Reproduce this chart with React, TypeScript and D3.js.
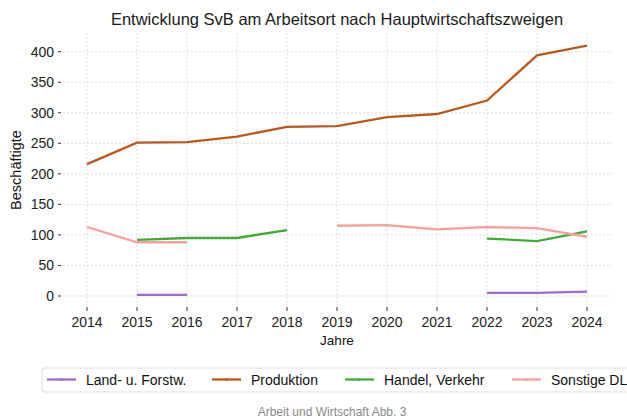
import React from 'react';
import * as d3 from 'd3';

const years = [2014, 2015, 2016, 2017, 2018, 2019, 2020, 2021, 2022, 2023, 2024];
const landForst = [null, 2, 2, null, null, null, null, null, 5, 5, 7];
const produktion = [216, 251, 252, 261, 277, 278, 293, 298, 320, 394, 410];
const handel = [null, 92, 95, 95, 108, null, null, null, 94, 90, 106];
const sonstige = [113, 88, 88, null, null, 115, 116, 109, 113, 111, 97];
const yTicks = [0, 50, 100, 150, 200, 250, 300, 350, 400];

const seriesNames = ['Land- u. Forstw.', 'Produktion', 'Handel, Verkehr', 'Sonstige DL'];
const seriesColors = ['#9b6cc8', '#b9581f', '#41ab3a', '#f7a0a0'];
const seriesData = [landForst, produktion, handel, sonstige];

const font = 'Liberation Sans, Arial, Helvetica, sans-serif';

const App = () => {
  const width = 627;
  const height = 419;
  const left = 63;
  const right = 612;
  const top = 33;
  const bottom = 305;

  const x = d3.scaleLinear().domain([2014, 2024]).range([87, 587]);
  const y = d3.scaleLinear().domain([0, 400]).range([296, 51.7]);

  const line = d3
    .line<number | null>()
    .defined((d) => d !== null)
    .x((d, i) => x(years[i]))
    .y((d) => y(d as number));

  const legendX = [47, 212, 345, 512];

  return (
    <svg width={width} height={height} style={{ position: 'absolute', left: 0, top: 0 }} fontFamily={font}>
      <rect width={width} height={height} fill="#fff" />
      <text x={337} y={25} textAnchor="middle" fontSize={16.5} fill="#1a1a1a">
        Entwicklung SvB am Arbeitsort nach Hauptwirtschaftszweigen
      </text>

      {/* grid */}
      {yTicks.map((t) => (
        <line key={'gy' + t} x1={left} x2={right} y1={y(t)} y2={y(t)} stroke="#ddd" strokeDasharray="2,2" />
      ))}
      {years.map((yr) => (
        <line key={'gx' + yr} x1={x(yr)} x2={x(yr)} y1={top} y2={bottom} stroke="#ddd" strokeDasharray="2,2" />
      ))}

      {/* y axis */}
      {yTicks.map((t) => (
        <g key={'ty' + t}>
          <line x1={58} x2={61} y1={y(t)} y2={y(t)} stroke="#333" />
          <text x={54} y={y(t)} dy="0.35em" textAnchor="end" fontSize={14} fill="#222">
            {t}
          </text>
        </g>
      ))}
      <text
        transform={`translate(21,170) rotate(-90)`}
        textAnchor="middle"
        fontSize={14.5}
        fill="#111"
      >
        Beschäftigte
      </text>

      {/* x axis */}
      {years.map((yr) => (
        <g key={'tx' + yr}>
          <line x1={x(yr)} x2={x(yr)} y1={307} y2={311} stroke="#333" />
          <text x={x(yr)} y={327} textAnchor="middle" fontSize={14} fill="#222">
            {yr}
          </text>
        </g>
      ))}
      <text x={337} y={345} textAnchor="middle" fontSize={13.5} fill="#111">
        Jahre
      </text>

      {/* lines */}
      {seriesData.map((d, i) => (
        <path key={seriesNames[i]} d={line(d) || ''} fill="none" stroke={seriesColors[i]} strokeWidth={2.3} />
      ))}

      {/* legend */}
      <rect x={42} y={368} width={600} height={24} rx={3} fill="#fff" stroke="#ddd" />
      {seriesNames.map((name, i) => (
        <g key={'lg' + name}>
          <line x1={legendX[i]} x2={legendX[i] + 29} y1={379.5} y2={379.5} stroke={seriesColors[i]} strokeWidth={2.3} />
          <circle cx={legendX[i] + 14.5} cy={379.5} r={1.2} fill={seriesColors[i]} />
          <text x={legendX[i] + 39} y={380} dy="0.35em" fontSize={14} fill="#111">
            {name}
          </text>
        </g>
      ))}

      <text x={332} y={416} textAnchor="middle" fontSize={12} fill="#888">
        Arbeit und Wirtschaft Abb. 3
      </text>
    </svg>
  );
};

export default App;
